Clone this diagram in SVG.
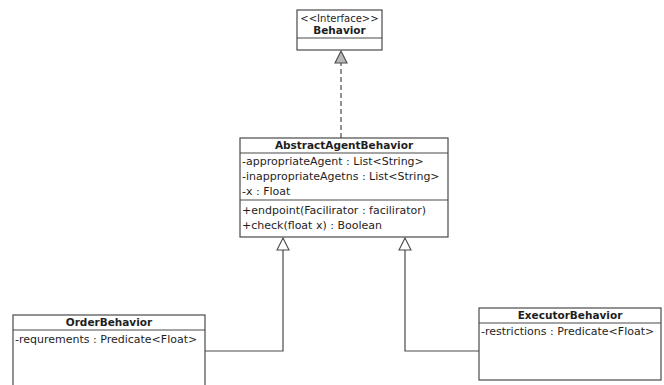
<svg xmlns="http://www.w3.org/2000/svg" width="664" height="385" viewBox="0 0 664 385">
  <defs>
    <style>
      .box { fill: #ffffff; stroke: #4a4a4a; stroke-width: 1.2; }
      .div { stroke: #4a4a4a; stroke-width: 1.2; }
      .txt { font-family: "DejaVu Sans", "Liberation Sans", sans-serif; font-size: 11px; fill: #1e1e1e; }
      .hdr { font-weight: bold; font-size: 10.5px; text-anchor: middle; }
      .stereo { font-size: 10px; text-anchor: middle; }
      .edge { fill: none; stroke: #4a4a4a; stroke-width: 1.2; }
      .dash { stroke-dasharray: 5 3; }
    </style>
    <marker id="realize" viewBox="0 0 14 14" refX="13" refY="7" markerWidth="14" markerHeight="14" markerUnits="userSpaceOnUse" orient="auto">
      <path d="M1,1 L13,7 L1,13 Z" fill="#b8b8b8" stroke="#4a4a4a" stroke-width="1.1"/>
    </marker>
    <marker id="inherit" viewBox="0 0 14 14" refX="13" refY="7" markerWidth="14" markerHeight="14" markerUnits="userSpaceOnUse" orient="auto">
      <path d="M1,1 L13,7 L1,13 Z" fill="#ffffff" stroke="#4a4a4a" stroke-width="1.1"/>
    </marker>
  </defs>

  <!-- interface -->
  <g id="behavior">
    <rect class="box" x="297" y="10" width="85" height="40"/>
    <line class="div" x1="297" y1="38" x2="382" y2="38"/>
    <text class="txt stereo" x="339.5" y="22">&lt;&lt;Interface&gt;&gt;</text>
    <text class="txt hdr" x="339.5" y="34">Behavior</text>
  </g>

  <!-- abstract base class -->
  <g id="abstractAgentBehavior">
    <rect class="box" x="240" y="138" width="208" height="99"/>
    <line class="div" x1="240" y1="153" x2="448" y2="153"/>
    <line class="div" x1="240" y1="200" x2="448" y2="200"/>
    <text class="txt hdr" x="344" y="149">AbstractAgentBehavior</text>
    <text class="txt" x="242" y="165">-appropriateAgent : List&lt;String&gt;</text>
    <text class="txt" x="242" y="180">-inappropriateAgetns : List&lt;String&gt;</text>
    <text class="txt" x="242" y="195">-x : Float</text>
    <text class="txt" x="242" y="214">+endpoint(Facilirator : facilirator)</text>
    <text class="txt" x="242" y="229">+check(float x) : Boolean</text>
  </g>

  <!-- subclasses -->
  <g id="orderBehavior">
    <rect class="box" x="13" y="315" width="192" height="80"/>
    <line class="div" x1="13" y1="330" x2="205" y2="330"/>
    <text class="txt hdr" x="109" y="326">OrderBehavior</text>
    <text class="txt" x="15" y="343">-requrements : Predicate&lt;Float&gt;</text>
  </g>

  <g id="executorBehavior">
    <rect class="box" x="479" y="308" width="182" height="72"/>
    <line class="div" x1="479" y1="323" x2="661" y2="323"/>
    <text class="txt hdr" x="570" y="319">ExecutorBehavior</text>
    <text class="txt" x="481" y="335">-restrictions : Predicate&lt;Float&gt;</text>
  </g>

  <!-- connectors -->
  <g id="connectors">
    <path class="edge dash" d="M341,138 L341,51" marker-end="url(#realize)"/>
    <path class="edge" d="M205,351 L283,351 L283,238" marker-end="url(#inherit)"/>
    <path class="edge" d="M479,351 L405,351 L405,238" marker-end="url(#inherit)"/>
  </g>
</svg>
